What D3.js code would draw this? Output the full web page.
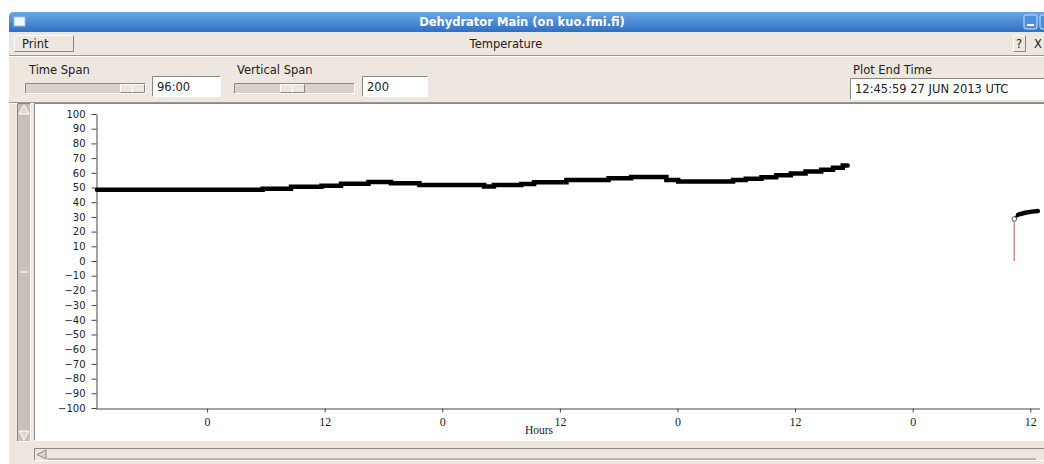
<!DOCTYPE html>
<html>
<head>
<meta charset="utf-8">
<script src="https://cdn.jsdelivr.net/npm/d3@7"></script>
<style>
  body { margin: 0; background: #fff; }
  svg { display: block; }
  .ui { font-family: "DejaVu Sans", sans-serif; font-size: 11.5px; fill: #222; }
</style>
</head>
<body>
<svg id="win" width="1044" height="464"></svg>
<script>
// plot end time and span, as shown in the controls
const plotEnd = Date.UTC(2013, 5, 27, 12, 45, 59);
const spanHours = 96;
const yTicks = d3.range(-100, 101, 10);

// first run of the temperature record (hours after the plot start, degrees)
const run1Hours = [0, 16.9, 19.8, 22.9, 24.9, 27.7, 30.0, 32.9, 39.5, 40.5, 43.3, 44.6, 47.9, 52.2, 54.5, 58.1, 59.3, 64.9, 66.2, 67.8, 69.3, 70.8, 72.3, 73.9, 75.1, 76.1];
const run1Temp  = [48.5, 49.2, 50.5, 51.2, 52.6, 53.7, 52.9, 51.7, 50.6, 51.7, 52.4, 53.5, 55.1, 56.3, 57.1, 55.1, 54.0, 55.1, 56.0, 57.0, 58.3, 59.6, 60.8, 62.0, 63.5, 65.0];

// second run after the gap
const run2Hours = [93.6, 94.0, 94.7, 95.4, 96];
const run2Temp  = [28.6, 31.5, 32.8, 33.6, 34.0];

const svg = d3.select("#win");
const W = 1044, H = 464;
const bg = "#ede7df";

// ---- window chrome ----
const defs = svg.append("defs");
const grad = defs.append("linearGradient").attr("id", "tb").attr("x1", 0).attr("y1", 0).attr("x2", 0).attr("y2", 1);
grad.append("stop").attr("offset", 0).attr("stop-color", "#6aa6e6");
grad.append("stop").attr("offset", 1).attr("stop-color", "#2f70c2");

svg.append("rect").attr("x", 9).attr("y", 32).attr("width", W - 9).attr("height", H - 32).attr("fill", bg);
svg.append("path")
    .attr("d", `M9,32 V17 Q9,12 14,12 H${W} V32 Z`)
    .attr("fill", "url(#tb)");
svg.append("rect").attr("x", 14).attr("y", 17).attr("width", 11).attr("height", 9)
    .attr("fill", "#f4f6fa").attr("stroke", "#a8c0e0");
svg.append("text").attr("x", 522).attr("y", 26).attr("text-anchor", "middle")
    .attr("font-family", "DejaVu Sans, sans-serif").attr("font-weight", "bold").attr("font-size", 11.5)
    .attr("fill", "#fff").text("Dehydrator Main (on kuo.fmi.fi)");
svg.append("rect").attr("x", 1024).attr("y", 15).attr("width", 13).attr("height", 14).attr("rx", 2)
    .attr("fill", "#4d8fdc").attr("stroke", "#cfe0f5");
svg.append("rect").attr("x", 1027).attr("y", 24).attr("width", 7).attr("height", 2).attr("fill", "#fff");
svg.append("rect").attr("x", 1040).attr("y", 15).attr("width", 13).attr("height", 14).attr("rx", 2)
    .attr("fill", "#4d8fdc").attr("stroke", "#cfe0f5");

function raised(x, y, w, h) {
  svg.append("rect").attr("x", x).attr("y", y).attr("width", w).attr("height", h).attr("fill", bg);
  svg.append("path").attr("d", `M${x},${y + h} V${y} H${x + w}`).attr("fill", "none").attr("stroke", "#fff");
  svg.append("path").attr("d", `M${x},${y + h} H${x + w} V${y}`).attr("fill", "none").attr("stroke", "#8c8680");
}
function sunken(x, y, w, h, fill) {
  svg.append("rect").attr("x", x).attr("y", y).attr("width", w).attr("height", h).attr("fill", fill);
  svg.append("path").attr("d", `M${x},${y + h} V${y} H${x + w}`).attr("fill", "none").attr("stroke", "#8c8680");
  svg.append("path").attr("d", `M${x},${y + h} H${x + w} V${y}`).attr("fill", "none").attr("stroke", "#fff");
}
function sep(y) {
  svg.append("line").attr("x1", 9).attr("x2", W).attr("y1", y).attr("y2", y).attr("stroke", "#9d9790");
  svg.append("line").attr("x1", 9).attr("x2", W).attr("y1", y + 1).attr("y2", y + 1).attr("stroke", "#fff");
}

raised(14.5, 35.5, 59, 16);
svg.append("text").attr("class", "ui").attr("x", 22).attr("y", 48).text("Print");
svg.append("text").attr("class", "ui").attr("x", 506).attr("y", 48).attr("text-anchor", "middle").text("Temperature");
raised(1013.5, 35.5, 12, 16);
svg.append("text").attr("class", "ui").attr("x", 1016).attr("y", 48).text("?");
svg.append("text").attr("class", "ui").attr("x", 1034).attr("y", 48).text("X");
sep(55.5);

function slider(x, thumbX) {
  sunken(x + 0.5, 83.5, 120, 10, "#d9d1ca");
  raised(thumbX + 0.5, 84.5, 12, 8);
  raised(thumbX + 12.5, 84.5, 12, 8);
}
svg.append("text").attr("class", "ui").attr("x", 29).attr("y", 74).text("Time Span");
slider(25, 120);
sunken(152.5, 76.5, 68, 20, "#fff");
svg.append("text").attr("class", "ui").attr("x", 157).attr("y", 91).text("96:00");

svg.append("text").attr("class", "ui").attr("x", 237).attr("y", 74).text("Vertical Span");
slider(234, 280);
sunken(362.5, 76.5, 65, 20, "#fff");
svg.append("text").attr("class", "ui").attr("x", 367).attr("y", 91).text("200");

svg.append("text").attr("class", "ui").attr("x", 853).attr("y", 74).text("Plot End Time");
sunken(850.5, 78.5, 200, 21, "#fff");
svg.append("text").attr("class", "ui").attr("x", 855).attr("y", 93).text("12:45:59 27 JUN 2013 UTC");
sep(102.5);

// plot canvas and scrollbars
sunken(34.5, 103.5, 1015, 337, "#fff");
sunken(17.5, 103.5, 13, 338, "#cac0b9");
svg.append("path").attr("d", "M19,114 L24,105 L29,114 Z").attr("fill", "#ddd6cf").attr("stroke", "#fff");
svg.append("path").attr("d", "M19,431 L24,440 L29,431 Z").attr("fill", "#ddd6cf").attr("stroke", "#fff");
svg.append("line").attr("x1", 20).attr("x2", 28).attr("y1", 272).attr("y2", 272).attr("stroke", "#fff");
sunken(34.5, 448.5, 1015, 12, "#ede7df");
svg.append("path").attr("d", "M46,450 L37,454.5 L46,459 Z").attr("fill", "#ddd6cf").attr("stroke", "#8c8680");
svg.append("line").attr("x1", 47).attr("x2", 1036).attr("y1", 459).attr("y2", 459).attr("stroke", "#8c8680");

// ---- chart ----
const start = plotEnd - spanHours * 3600e3;
const toDate = h => new Date(start + h * 3600e3);

const x = d3.scaleUtc().domain([toDate(0), toDate(spanHours)]).range([97, 1037.8]);
const y = d3.scaleLinear().domain([-100, 100]).range([408, 114]);

const yAxis = svg.append("g")
    .attr("transform", "translate(96.5,0)")
    .call(d3.axisLeft(y).tickValues(yTicks).tickSize(5).tickSizeOuter(0).tickPadding(6));
yAxis.selectAll("text").attr("font-family", "DejaVu Sans, sans-serif").attr("font-size", 10).attr("fill", "#222");
yAxis.selectAll("line, path").attr("stroke", "#444");

const xAxis = svg.append("g")
    .attr("transform", "translate(0,408.5)")
    .call(d3.axisBottom(x).ticks(d3.utcHour.every(12)).tickFormat(d3.utcFormat("%-H"))
      .tickSize(4).tickSizeOuter(0).tickPadding(5));
xAxis.select(".domain").attr("d", "M96,0.5H1040");
xAxis.selectAll("text").attr("font-family", "Liberation Serif, serif").attr("font-size", 12).attr("fill", "#222");
xAxis.selectAll("line, path").attr("stroke", "#444");

svg.append("text").attr("x", 539).attr("y", 434).attr("text-anchor", "middle")
    .attr("font-family", "Liberation Serif, serif").attr("font-size", 11.5).attr("fill", "#222").text("Hours");

const line = d3.line()
    .x(d => x(toDate(d[0])))
    .y(d => y(d[1]))
    .curve(d3.curveStepAfter);

const run1 = run1Hours.map((h, i) => [h, run1Temp[i]]);
// hold the last reading briefly so the line ends flat
const run1Drawn = run1.concat([[run1Hours[run1Hours.length - 1] + 0.5, run1Temp[run1Temp.length - 1]]]);
svg.append("path").datum(run1Drawn)
    .attr("d", line)
    .attr("fill", "none").attr("stroke", "#000").attr("stroke-width", 4.5)
    .attr("stroke-linecap", "round");

// red drop from zero at the restart
svg.append("line")
    .attr("x1", x(toDate(run2Hours[0]))).attr("x2", x(toDate(run2Hours[0])))
    .attr("y1", y(0)).attr("y2", y(run2Temp[0]))
    .attr("stroke", "#d48a8a").attr("stroke-width", 1.5);

const run2 = run2Hours.map((h, i) => [h, run2Temp[i]]);
svg.append("path").datum(run2.slice(1))
    .attr("d", d3.line().x(d => x(toDate(d[0]))).y(d => y(d[1])))
    .attr("fill", "none").attr("stroke", "#000").attr("stroke-width", 4.5)
    .attr("stroke-linecap", "round");
svg.append("path").datum(run2.slice(0, 2))
    .attr("d", d3.line().x(d => x(toDate(d[0]))).y(d => y(d[1])))
    .attr("fill", "none").attr("stroke", "#000").attr("stroke-width", 2.5);
svg.append("circle")
    .attr("cx", x(toDate(run2Hours[0]))).attr("cy", y(run2Temp[0])).attr("r", 2.3)
    .attr("fill", "#fff").attr("stroke", "#555").attr("stroke-width", 1);
</script>
</body>
</html>
